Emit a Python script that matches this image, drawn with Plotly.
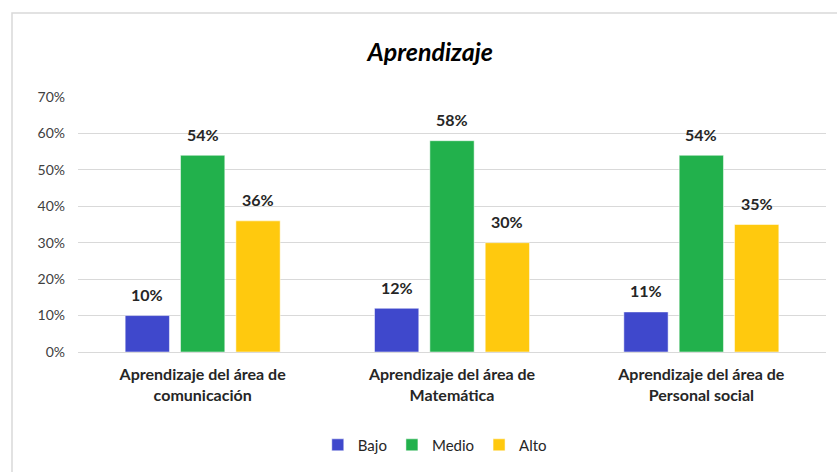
import plotly.graph_objects as go

categories = ["Aprendizaje del área de<br>comunicación",
              "Aprendizaje del área de<br>Matemática",
              "Aprendizaje del área de<br>Personal social"]
bajo = [0.10, 0.12, 0.11]
medio = [0.54, 0.58, 0.54]
alto = [0.36, 0.30, 0.35]
series = [("Bajo", bajo, "#3F48CC"), ("Medio", medio, "#22B14C"), ("Alto", alto, "#FFC90E")]

FONT = "Lato, 'Open Sans', sans-serif"
TXT = "#262626"

fig = go.Figure()
annotations = []
for i, (name, vals, col) in enumerate(series):
    fig.add_trace(go.Bar(
        x=categories, y=vals, name=name, offsetgroup=str(i),
        marker=dict(color=col, line=dict(color="rgba(255,255,255,0.5)", width=1)),
    ))
    offset = (i - 1) * 55.3
    for c, v in zip(categories, vals):
        annotations.append(dict(x=c, y=v, xref="x", yref="y", text=f"<b>{round(v*100)}%</b>",
                                showarrow=False, xshift=offset, yshift=21, yanchor="middle",
                                font=dict(size=16, color=TXT, family=FONT)))

fig.update_layout(
    width=837, height=472,
    margin=dict(l=78, r=11, t=97, b=120),
    paper_bgcolor="white", plot_bgcolor="white",
    barmode="group", bargap=0.334, bargroupgap=0.2,
    font=dict(family=FONT, color=TXT),
    annotations=annotations,
    title=dict(text="<b><i>Aprendizaje</i></b>", x=0.514, xanchor="center",
               y=1 - 52/472, yanchor="middle",
               font=dict(size=25, color="#000000", family=FONT)),
    legend=dict(orientation="h", x=0.477, xanchor="center", y=-0.365, yanchor="middle",
                font=dict(size=15, color=TXT, family=FONT),
                itemwidth=30, traceorder="normal"),
    yaxis=dict(range=[0, 0.70], dtick=0.10, tickformat=".0%",
               showgrid=True, gridcolor="#d9d9d9", gridwidth=1,
               zeroline=False, showline=False, ticks="",
               tickfont=dict(size=14, color="#404040", family=FONT), ticklabelstandoff=12),
    xaxis=dict(showline=True, linecolor="#d9d9d9", linewidth=1, ticks="",
               tickfont=dict(size=16, color=TXT, family=FONT), ticklabelstandoff=8),
    shapes=[dict(type="rect", xref="paper", yref="paper",
                 x0=(12-78)/748, x1=1.2, y0=-0.8, y1=(352-13)/255,
                 line=dict(color="#d9d9d9", width=1.5), fillcolor="rgba(0,0,0,0)", layer="below")],
)
fig.update_xaxes(tickvals=categories, ticktext=[f"<b>{c}</b>" for c in categories])

fig.write_html("out.html")
